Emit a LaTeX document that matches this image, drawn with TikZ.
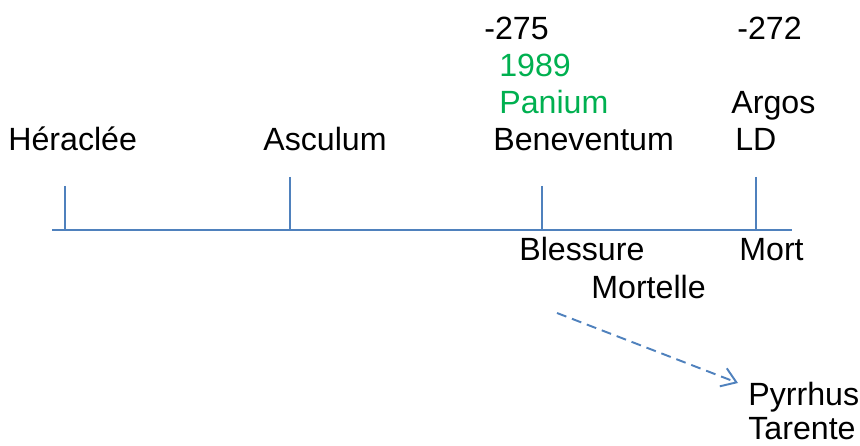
\documentclass[tikz,border=0pt]{standalone}
\usepackage{fontspec}
\setmainfont{Liberation Sans}
\usetikzlibrary{arrows.meta, positioning}
\definecolor{axisblue}{RGB}{79,129,189}
\definecolor{eventgreen}{RGB}{0,176,80}
\begin{document}
\begin{tikzpicture}[
  x=0.02cm, y=-0.02cm,
  lbl/.style={anchor=base west, inner sep=0pt, font=\fontsize{18.3}{22}\selectfont},
  greenlbl/.style={lbl, text=eventgreen},
  axisline/.style={axisblue, line width=1.1pt},
  arr/.style={axisblue, line width=1.1pt, dash pattern=on 5.7pt off 3.4pt,
              -{Straight Barb[length=8pt, width=11pt]}}
]
\useasboundingbox (0,0) rectangle (860,446);

% Timeline axis and ticks
\coordinate (axl) at (52,230);
\coordinate (axr) at (792,230);
\draw[axisline] (axl) -- (axr);
\foreach \name/\x/\top in {her/65/186, asc/290/177, ben/542/186, arg/756/177} {
  \coordinate (\name top) at (\x,\top);
  \coordinate (\name bot) at (\x,230);
  \draw[axisline] (\name top) -- (\name bot);
}

% Battles above the axis
\node[lbl] (heraclee) at (8,151) {Héraclée};
\node[lbl] (asculum) at (263,151) {Asculum};
\node[lbl] (beneventum) at (493,151) {Beneventum};
\node[greenlbl] (panium) at (499,114) {Panium};
\node[greenlbl] (y1989) at (499,77) {1989};
\node[lbl] (y275) at (484,40) {-275};
\node[lbl] (ld) at (735,151) {LD};
\node[lbl] (argos) at (731,114) {Argos};
\node[lbl] (y272) at (737,40) {-272};

% Events below the axis
\node[lbl] (blessure) at (519,261) {Blessure};
\node[lbl] (mortelle) at (591,298) {Mortelle};
\node[lbl] (mort) at (739,261) {Mort};
\node[lbl] (pyrrhus) at (748,405) {Pyrrhus};
\node[lbl] (tarente) at (748,439) {Tarente};

% Link to Pyrrhus
\coordinate (arrstart) at (557,313);
\coordinate (arrend) at (738,383);
\draw[arr] (arrstart) -- (arrend);

\end{tikzpicture}
\end{document}
